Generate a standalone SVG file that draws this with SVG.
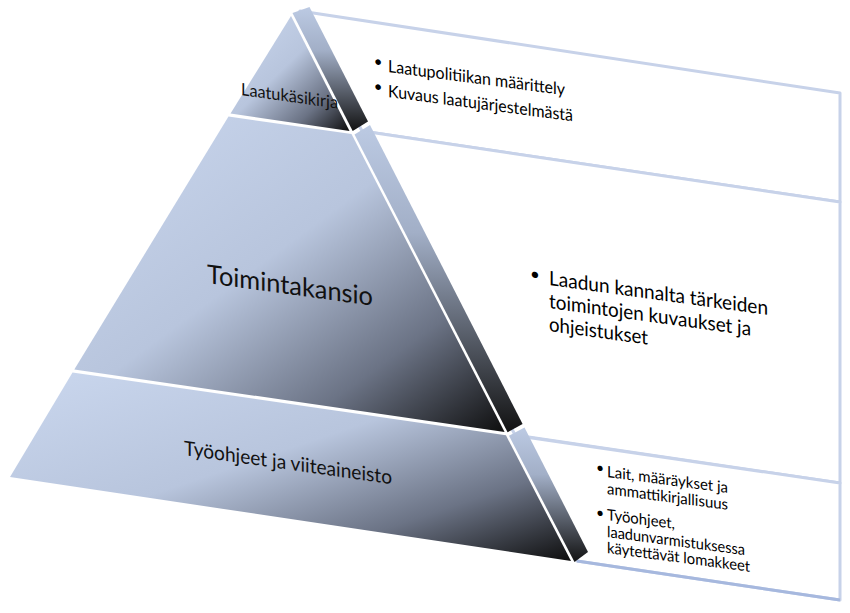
<svg xmlns="http://www.w3.org/2000/svg" width="850" height="613" viewBox="0 0 850 613">
<defs>
  <linearGradient id="face" x1="0" y1="0" x2="1" y2="1">
    <stop offset="0" stop-color="#cad7ee"/>
    <stop offset="0.45" stop-color="#b8c5dd"/>
    <stop offset="0.75" stop-color="#6b7385"/>
    <stop offset="1" stop-color="#0e0e0e"/>
  </linearGradient>
  <linearGradient id="side" x1="0" y1="0" x2="0" y2="1">
    <stop offset="0" stop-color="#bccae3"/>
    <stop offset="0.35" stop-color="#a2afc7"/>
    <stop offset="1" stop-color="#121212"/>
  </linearGradient>
</defs>
<style>
  .panel{fill:#ffffff;stroke:#c7d2e9;stroke-width:3;stroke-linejoin:round}
  .edge{fill:none;stroke:#a6b8de;stroke-width:3}
  .face{fill:url(#face)}
  .side{fill:url(#side)}
  .t{font-family:Lato,"Liberation Sans",sans-serif;fill:#000}
  .lbl{font-family:Lato,"Liberation Sans",sans-serif;fill:#111}
</style>
<rect width="850" height="613" fill="#ffffff"/>

<g id="panel-1">
  <polygon class="panel" points="300,11 840,93 840,202 362,131"/>
  <text class="t" font-size="15" text-anchor="middle" transform="translate(378,66.5) skewY(7.5)">•</text>
  <text class="t" font-size="17" transform="translate(388,72) skewY(7.5)" textLength="177" lengthAdjust="spacingAndGlyphs">Laatupolitiikan määrittely</text>
  <text class="t" font-size="15" text-anchor="middle" transform="translate(378,91.5) skewY(7.5)">•</text>
  <text class="t" font-size="17" transform="translate(388,97) skewY(7.5)" textLength="185" lengthAdjust="spacingAndGlyphs">Kuvaus laatujärjestelmästä</text>
</g>

<g id="panel-2">
  <polygon class="panel" points="362,131 840,202 840,483 515,435"/>
  <text class="t" font-size="17" text-anchor="middle" transform="translate(535,280) skewY(7.8)">•</text>
  <text class="t" font-size="20" transform="translate(549,285) skewY(7.8)" textLength="219" lengthAdjust="spacingAndGlyphs">Laadun kannalta tärkeiden</text>
  <text class="t" font-size="20" transform="translate(549,308) skewY(7.8)" textLength="202" lengthAdjust="spacingAndGlyphs">toimintojen kuvaukset ja</text>
  <text class="t" font-size="20" transform="translate(549,331) skewY(7.8)" textLength="99" lengthAdjust="spacingAndGlyphs">ohjeistukset</text>
</g>

<g id="panel-3">
  <polygon class="panel" points="515,435.5 840,483 840,600 577,561"/>
  <line class="edge" x1="577" y1="561" x2="840" y2="600"/>
  <text class="t" font-size="14" text-anchor="middle" transform="translate(600,472.5) skewY(7.5)">•</text>
  <text class="t" font-size="15.5" transform="translate(607,477) skewY(7.5)" textLength="121" lengthAdjust="spacingAndGlyphs">Lait, määräykset ja</text>
  <text class="t" font-size="15.5" transform="translate(607,494) skewY(7.5)" textLength="121" lengthAdjust="spacingAndGlyphs">ammattikirjallisuus</text>
  <text class="t" font-size="14" text-anchor="middle" transform="translate(600,517.5) skewY(7.5)">•</text>
  <text class="t" font-size="15.5" transform="translate(607,520) skewY(7.5)" textLength="68" lengthAdjust="spacingAndGlyphs">Työohjeet,</text>
  <text class="t" font-size="15.5" transform="translate(607,537) skewY(7.5)" textLength="138" lengthAdjust="spacingAndGlyphs">laadunvarmistuksessa</text>
  <text class="t" font-size="15.5" transform="translate(607,553) skewY(7.5)" textLength="143" lengthAdjust="spacingAndGlyphs">käytettävät lomakkeet</text>
</g>

<g id="tier-top">
  <polygon class="face" points="291,16 230.5,113.5 349.5,130.9"/>
  <polygon class="side" points="292.5,13 309.5,7 368,121.5 352.7,131"/>
  <text class="lbl" font-size="17" transform="translate(241,95) skewY(8)" textLength="97" lengthAdjust="spacingAndGlyphs">Laatukäsikirja</text>
</g>

<g id="tier-middle">
  <polygon class="face" points="228.5,116.5 351.5,134.1 504.6,432 74.3,369.5"/>
  <polygon class="side" points="354.5,134.5 370,125 522.6,424 507.6,432.3"/>
  <text class="lbl" font-size="26" transform="translate(207,283) skewY(7.8)" textLength="166" lengthAdjust="spacingAndGlyphs">Toimintakansio</text>
</g>

<g id="tier-bottom">
  <polygon class="face" points="72.5,372.5 505.9,435.3 571,561 10,477"/>
  <polygon class="side" points="509,435.8 524.5,427.5 588,552 574.5,562"/>
  <text class="lbl" font-size="20" transform="translate(184,455) skewY(8)" textLength="208" lengthAdjust="spacingAndGlyphs">Työohjeet ja viiteaineisto</text>
</g>

<g id="connectors"></g>
</svg>
